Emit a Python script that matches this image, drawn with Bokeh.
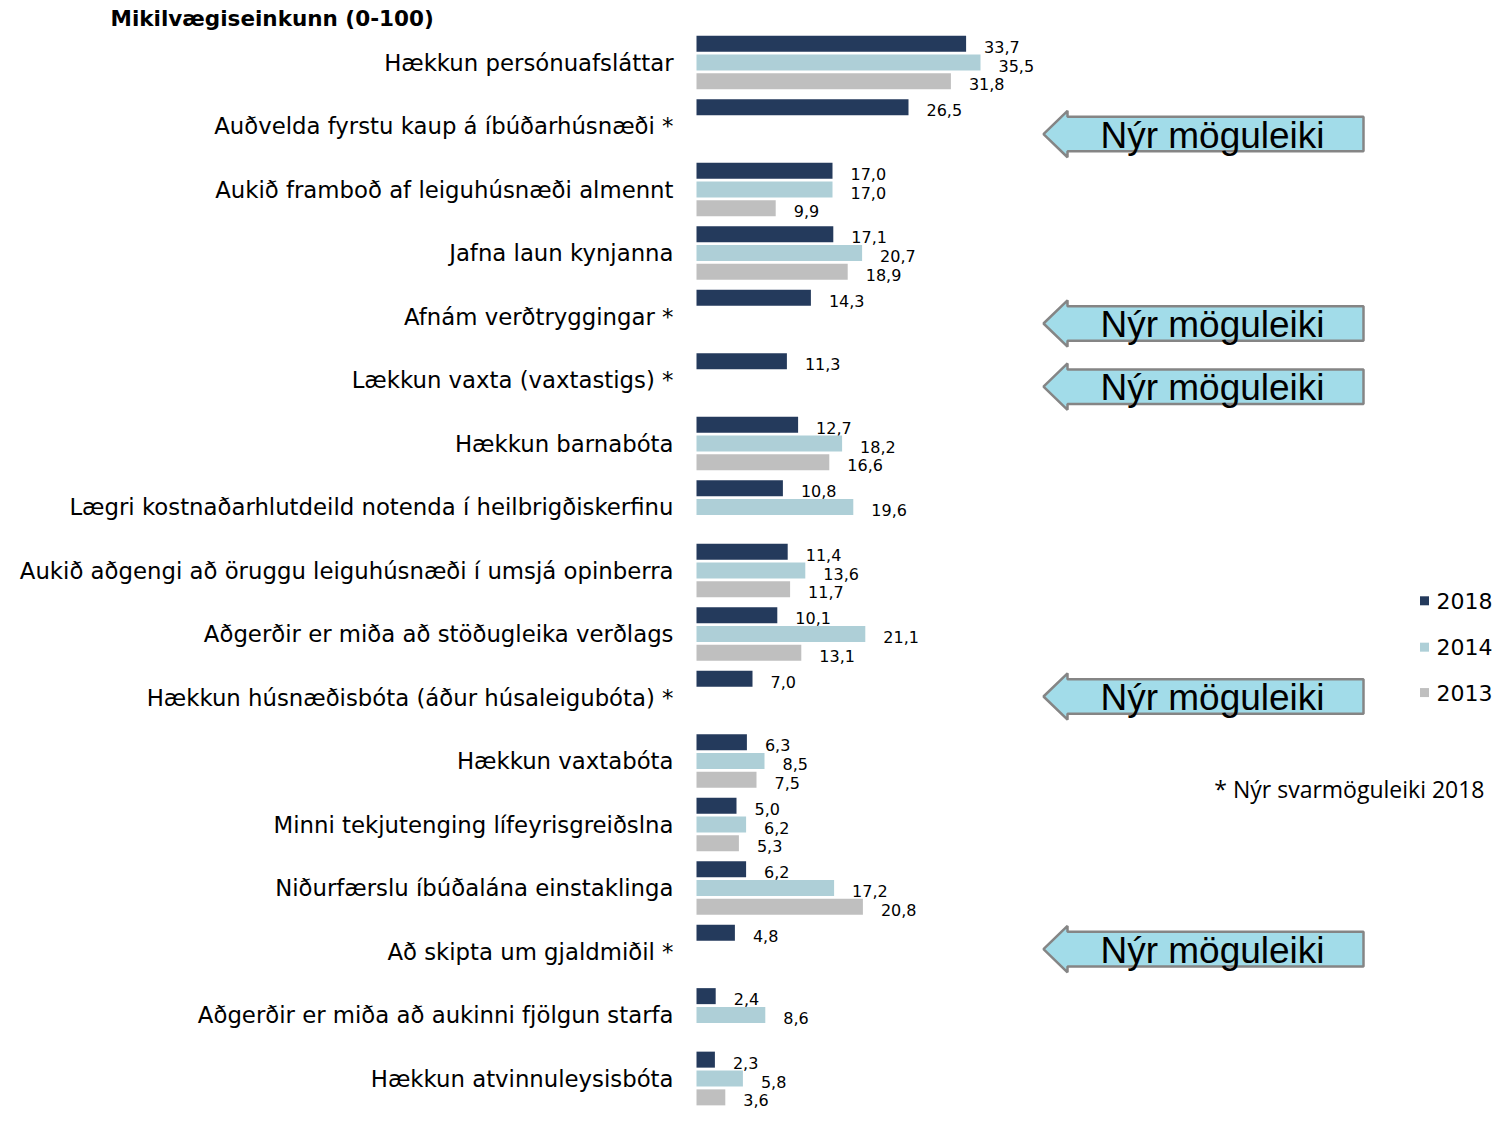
from bokeh.plotting import figure
from bokeh.models import ColumnDataSource, Range1d
from bokeh.transform import dodge
from bokeh.core.properties import value
from bokeh.embed import file_html
from bokeh.resources import INLINE

# ---------------- data ----------------
categories = [
    "Hækkun persónuafsláttar",
    "Auðvelda fyrstu kaup á íbúðarhúsnæði *",
    "Aukið framboð af leiguhúsnæði almennt",
    "Jafna laun kynjanna",
    "Afnám verðtryggingar *",
    "Lækkun vaxta (vaxtastigs) *",
    "Hækkun barnabóta",
    "Lægri kostnaðarhlutdeild notenda í heilbrigðiskerfinu",
    "Aukið aðgengi að öruggu leiguhúsnæði í umsjá opinberra",
    "Aðgerðir er miða að stöðugleika verðlags",
    "Hækkun húsnæðisbóta (áður húsaleigubóta) *",
    "Hækkun vaxtabóta",
    "Minni tekjutenging lífeyrisgreiðslna",
    "Niðurfærslu íbúðalána einstaklinga",
    "Að skipta um gjaldmiðil *",
    "Aðgerðir er miða að aukinni fjölgun starfa",
    "Hækkun atvinnuleysisbóta",
]
v2018 = [33.7, 26.5, 17.0, 17.1, 14.3, 11.3, 12.7, 10.8, 11.4, 10.1, 7.0, 6.3, 5.0, 6.2, 4.8, 2.4, 2.3]
v2014 = [35.5, None, 17.0, 20.7, None, None, 18.2, 19.6, 13.6, 21.1, None, 8.5, 6.2, 17.2, None, 8.6, 5.8]
v2013 = [31.8, None, 9.9, 18.9, None, None, 16.6, None, 11.7, 13.1, None, 7.5, 5.3, 20.8, None, None, 3.6]
years = ["2018", "2014", "2013"]
title_text = "Mikilvægiseinkunn  (0-100)"
arrow_text = "Nýr möguleiki"
footnote_text = "* Nýr svarmöguleiki  2018"
new_rows = [1, 4, 5, 10, 14]

# ---------------- style ----------------
colors = ["#243A5C", "#AECFD7", "#BFBFBF"]
bar_offsets = [-0.297, 0.0, 0.297]
bar_height = 0.252
arrow_fill = "#A2DCE9"
arrow_line = "#858585"
arrow_center_px = [138, 330, 394, 708, 964]


def fx(px):
    return (px - 696) / 8.0


def fy(py):
    return (py - 65.5) / 64.35


W, H = 1493, 1109
ROW0, ROWPX = 62.0, 63.5
p = figure(width=W, height=H,
           x_range=Range1d(-696 / 8.0, (W - 696) / 8.0),
           y_range=Range1d((H - ROW0) / ROWPX, -ROW0 / ROWPX),
           output_backend="svg", toolbar_location=None, min_border=0,
           x_axis_location=None, y_axis_location=None)
p.grid.visible = False
p.outline_line_color = None
p.background_fill_color = "white"
p.border_fill_color = "white"

# bars + value labels
for vals, col, off in zip([v2018, v2014, v2013], colors, bar_offsets):
    rows = [i for i, v in enumerate(vals) if v is not None]
    src = ColumnDataSource(dict(
        row=rows,
        val=[vals[i] for i in rows],
        lab=[f"{vals[i]:.1f}".replace(".", ",") for i in rows],
    ))
    p.hbar(y=dodge("row", off), left=0, right="val", height=bar_height,
           source=src, fill_color=col, line_color=None)
    p.text(x="val", y=dodge("row", off), text="lab", source=src,
           x_offset=18, y_offset=3, text_align="left", text_baseline="middle",
           text_font=value("DejaVu Sans"), text_font_size="16px", text_color="#000000")

# category labels
csrc = ColumnDataSource(dict(row=list(range(len(categories))), cat=categories,
                             x=[0] * len(categories)))
p.text(x="x", y="row", text="cat", source=csrc, x_offset=-23,
       text_align="right", text_baseline="middle",
       text_font=value("DejaVu Sans"), text_font_size="22.8px", text_color="#000000")

# title
p.text(x=[fx(110)], y=[fy(21)], text=[title_text], text_align="left",
       text_baseline="middle", text_font=value("DejaVu Sans"),
       text_font_style="bold", text_font_size="21.5px", text_color="#000000")

# "new option" arrows
axs, ays = [], []
for c in arrow_center_px:
    pts = [(1043, c), (1067, c - 23.5), (1067, c - 17.5), (1363, c - 17.5),
           (1363, c + 17.5), (1067, c + 17.5), (1067, c + 23.5)]
    axs.append([fx(a) for a, b in pts])
    ays.append([fy(b) for a, b in pts])
p.patches(xs=axs, ys=ays, fill_color=arrow_fill, line_color=arrow_line, line_width=2.5)
p.text(x=[fx(1212)] * len(arrow_center_px), y=[fy(c + 1) for c in arrow_center_px],
       text=[arrow_text] * len(arrow_center_px), text_align="center",
       text_baseline="middle", text_font=value("Liberation Sans"),
       text_font_size="37px", text_color="#000000")

# legend
leg_y = [611, 658, 704]
p.scatter(x=[fx(1424)] * 3, y=[fy(v) for v in leg_y], marker="square", size=9,
          fill_color=colors, line_color=None)
p.text(x=[fx(1436)] * 3, y=[fy(v) for v in leg_y], text=years, text_align="left",
       text_baseline="middle", text_font=value("DejaVu Sans"),
       text_font_size="22px", text_color="#000000")

# footnote
p.text(x=[fx(1490)], y=[fy(802)], text=[footnote_text], text_align="right",
       text_baseline="middle", text_font=value("Open Sans"),
       text_font_size="23px", text_color="#000000")

open("out.html", "w").write(file_html(p, INLINE))
